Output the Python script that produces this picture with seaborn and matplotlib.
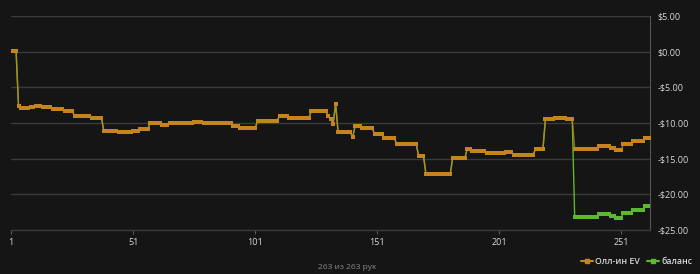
import numpy as np
import pandas as pd
import matplotlib
matplotlib.use("Agg")
import matplotlib.pyplot as plt
import seaborn as sns
from matplotlib.lines import Line2D

# ---- data ----
ev_runs = [3, 1, 4, 2, 3, 4, 5, 4, 7, 5,
           6, 6, 3, 4, 5, 3, 10, 4, 12, 3,
           7, 9, 4, 9, 7, 1, 1, 1, 1, 6,
           1, 3, 5, 4, 5, 9, 3, 11, 6, 2,
           6, 8, 3, 9, 4, 4, 5, 3, 10, 5,
           2, 3, 4, 5, 3]
ev_levels = [0.1, -7.6, -7.9, -7.8, -7.65, -7.8, -8.0, -8.3, -9.05, -9.3,
             -11.15, -11.3, -11.2, -10.8, -10.0, -10.3, -10.0, -9.85, -10.0, -10.5,
             -10.75, -9.75, -9.0, -9.3, -8.4, -9.0, -9.5, -10.1, -7.3, -11.3,
             -12.0, -10.4, -10.7, -11.6, -12.1, -12.9, -14.6, -17.1, -14.9, -13.6,
             -14.0, -14.25, -14.1, -14.45, -13.6, -9.5, -9.3, -9.5, -13.6, -13.2,
             -13.5, -13.8, -13.0, -12.55, -12.1]
# balance equals all-in EV up to hand 231, then diverges
balance_common_hands = 231
balance_tail_runs = [10, 5, 2, 3, 4, 5, 3]
balance_tail_levels = [-23.2, -22.75, -23.05, -23.35, -22.6, -22.15, -21.7]

x_ticks = [1, 51, 101, 151, 201, 251]
y_ticks = [5, 0, -5, -10, -15, -20, -25]
series_names = ["Олл-ин EV", "баланс"]
footer_text = "263 из 263 рук"

ev = np.repeat(ev_levels, ev_runs)
balance = np.concatenate([ev[:balance_common_hands],
                          np.repeat(balance_tail_levels, balance_tail_runs)])
hands = np.arange(1, len(ev) + 1)
df = pd.DataFrame({"hand": hands, "ev": ev, "balance": balance})

# ---- style ----
BG = "#151515"
GRID = "#3a3a3a"
TXT = "#d8d8d8"
ORANGE = "#c5841d"
GREEN = "#5cb82c"

sns.set_theme(style="dark")
plt.rcParams["font.family"] = ["Open Sans", "DejaVu Sans"]

fig = plt.figure(figsize=(7.0, 2.74), dpi=100, facecolor=BG)
ax = fig.add_axes([0.016, 0.161, 0.913, 0.781])
ax.set_facecolor(BG)

sns.lineplot(data=df, x="hand", y="balance", ax=ax, color=GREEN, linewidth=1.0,
             marker="s", markersize=2.4, markeredgewidth=0, zorder=2)
sns.lineplot(data=df, x="hand", y="ev", ax=ax, color=ORANGE, linewidth=1.0, alpha=0.8,
             zorder=3)
ax.plot(df["hand"], df["ev"], linestyle="none", marker="s", markersize=2.6,
        markeredgewidth=0, color=ORANGE, zorder=4)

ax.set_xlim(1, 263)
ax.set_ylim(-25, 5)
ax.set_xticks(x_ticks)
ax.set_xticklabels([str(t) for t in x_ticks])
ax.set_yticks(y_ticks)
ax.set_yticklabels([f"${t:.2f}" if t >= 0 else f"-${abs(t):.2f}" for t in y_ticks])
ax.yaxis.tick_right()
ax.set_xlabel("")
ax.set_ylabel("")

ax.grid(axis="y", color=GRID, linewidth=1.0)
ax.grid(axis="x", visible=False)
ax.tick_params(axis="y", length=0, pad=5, labelsize=6.5, labelcolor=TXT)
ax.tick_params(axis="x", length=3, width=0.8, color="#5a5a5a", pad=3,
               labelsize=6.5, labelcolor=TXT, bottom=True)
for side in ["top", "left"]:
    ax.spines[side].set_visible(False)
ax.spines["bottom"].set_visible(True)
ax.spines["bottom"].set_color(GRID)
ax.spines["bottom"].set_linewidth(1.0)
ax.spines["right"].set_visible(True)
ax.spines["right"].set_color("#555555")
ax.spines["right"].set_linewidth(0.8)

leg_old = ax.get_legend()
if leg_old is not None:
    leg_old.remove()
handles = [Line2D([0], [0], color=ORANGE, lw=1.5, marker="s", markersize=3),
           Line2D([0], [0], color=GREEN, lw=1.5, marker="s", markersize=3)]
leg = fig.legend(handles, series_names, loc="lower right", bbox_to_anchor=(1.0, 0.0),
                 ncol=2, frameon=False, fontsize=6.3, handlelength=1.3,
                 handletextpad=0.3, columnspacing=0.8, labelcolor=TXT)
for t in leg.get_texts():
    t.set_fontweight("semibold")

fig.text(0.496, 0.01, footer_text, ha="center", va="bottom", fontsize=6, color="#8a8a8a")

fig.savefig("out.png", dpi=100, facecolor=BG)
